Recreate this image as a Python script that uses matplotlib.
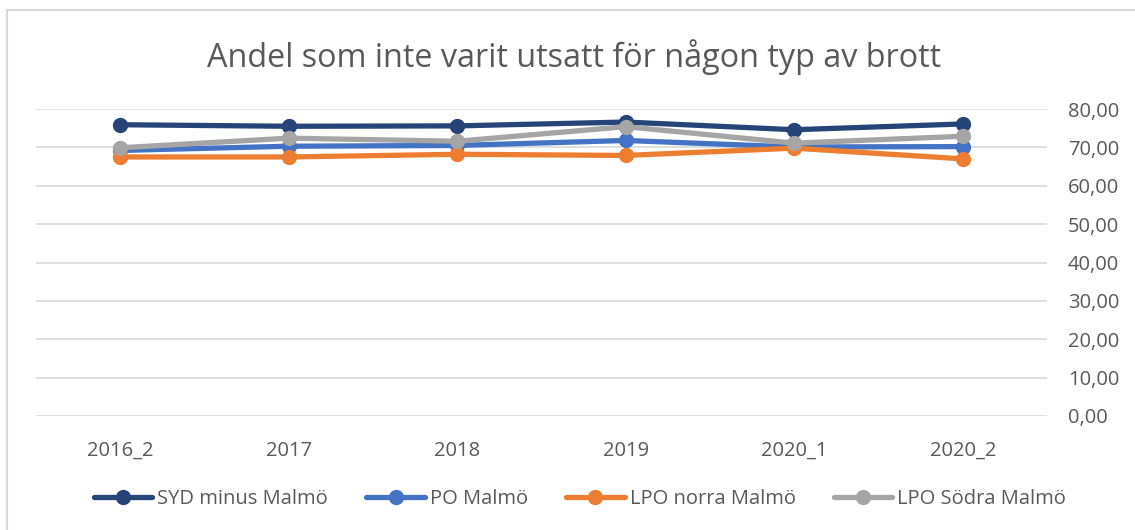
import numpy as np
import matplotlib.pyplot as plt
from matplotlib.patches import Rectangle

plt.rcParams['font.family'] = ['Open Sans', 'DejaVu Sans']

categories = ["2016_2", "2017", "2018", "2019", "2020_1", "2020_2"]
syd_minus_malmo = [75.9, 75.5, 75.6, 76.6, 74.6, 76.1]
po_malmo = [69.2, 70.3, 70.5, 71.8, 70.1, 70.2]
lpo_norra = [67.5, 67.5, 68.2, 67.9, 69.8, 67.0]
lpo_sodra = [69.9, 72.4, 71.6, 75.4, 71.1, 72.9]

series = [
    ("SYD minus Malmö", syd_minus_malmo, "#264478"),
    ("PO Malmö", po_malmo, "#4472C4"),
    ("LPO norra Malmö", lpo_norra, "#ED7D31"),
    ("LPO Södra Malmö", lpo_sodra, "#A5A5A5"),
]
yticks = np.arange(0, 81, 10)
txt = "#595959"

fig = plt.figure(figsize=(11.35, 5.3), dpi=100)
ax = fig.add_axes([36 / 1135, 1 - 416 / 530, (1047 - 36) / 1135, (416 - 109) / 530])

x = np.arange(len(categories))
for name, vals, col in series:
    ax.plot(x, vals, color=col, lw=3.8, marker="o", ms=10, label=name,
            solid_capstyle="round")

ax.set_xlim(-0.5, len(categories) - 0.5)
ax.set_ylim(0, 80)
ax.set_yticks(yticks)
ax.set_yticklabels([f"{v:.2f}".replace(".", ",") for v in yticks])
ax.yaxis.tick_right()
ax.set_xticks(x)
ax.set_xticklabels(categories)
ax.tick_params(axis="both", length=0, labelsize=14.5, colors=txt)
ax.tick_params(axis="y", pad=15)
ax.tick_params(axis="x", pad=18)
ax.grid(axis="y", color="#D9D9D9", lw=1.2)
ax.set_axisbelow(True)
for s in ax.spines.values():
    s.set_visible(False)

fig.text(0.506, 1 - 57 / 530, "Andel som inte varit utsatt för någon typ av brott",
         ha="center", va="center", fontsize=23.3, color=txt)

fig.legend(loc="center", bbox_to_anchor=(580 / 1135, 1 - 499 / 530), ncol=4, frameon=False,
           fontsize=14.5, labelcolor=txt, handlelength=2.9, handletextpad=0.25,
           columnspacing=1.9)

# chart frame (cropped at right and bottom)
fig.add_artist(Rectangle((7 / 1135, -0.01), 1.1, 1 - 10 / 530 + 0.01,
                         transform=fig.transFigure, fill=False,
                         edgecolor="#D9D9D9", lw=1.5))

fig.savefig("out.png", dpi=100)
